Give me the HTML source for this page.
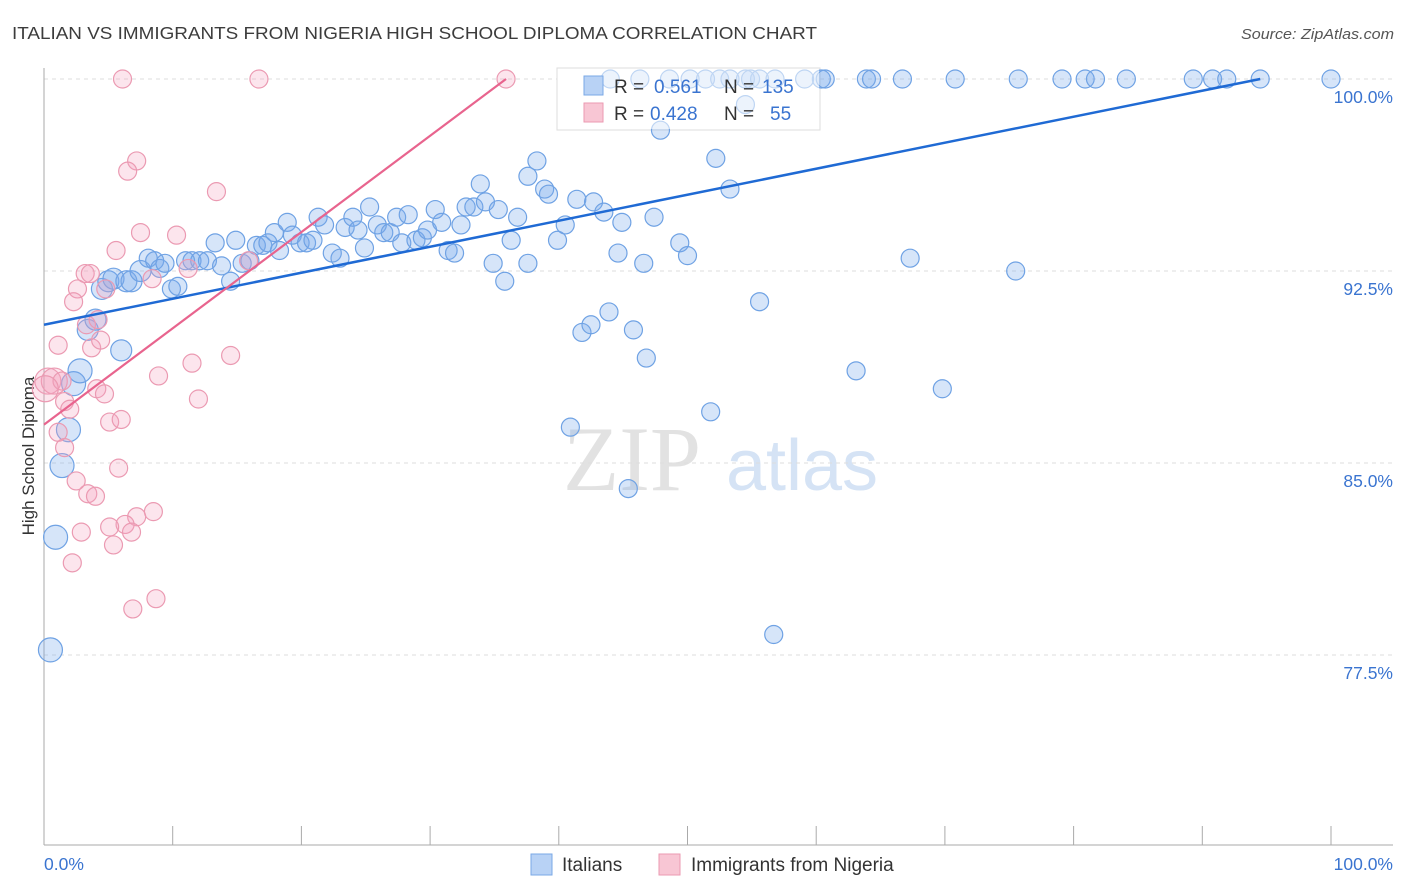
<!DOCTYPE html>
<html><head><meta charset="utf-8"><style>
body{margin:0;background:#fff;font-family:"Liberation Sans",sans-serif}
svg{display:block}
</style></head><body>
<svg id="chart" width="1406" height="892" xmlns="http://www.w3.org/2000/svg">
<text x="12" y="39" font-size="17.5" fill="#3c3c3c" textLength="805" lengthAdjust="spacingAndGlyphs">ITALIAN VS IMMIGRANTS FROM NIGERIA HIGH SCHOOL DIPLOMA CORRELATION CHART</text>
<text x="1241" y="39" font-size="14.5" fill="#555" font-style="italic" textLength="153" lengthAdjust="spacingAndGlyphs">Source: ZipAtlas.com</text>
<text transform="translate(34,456) rotate(-90)" font-size="17" fill="#333" text-anchor="middle">High School Diploma</text>
<g>
<text x="632" y="490" font-size="92" fill="#e2e2e2" font-family="Liberation Serif,serif" text-anchor="middle">ZIP</text>
<text x="802" y="490" font-size="72" fill="#d5e3f5" text-anchor="middle">atlas</text>
</g>
<g id="grid"></g><g id="axes"></g>
<g>
<rect x="557" y="68" width="263" height="62" fill="#fff" stroke="#ddd"/>
</g>
<g id="pts"></g><g id="lines"></g>
<g>
<rect x="558" y="69" width="261" height="60" fill="rgba(255,255,255,0.55)"/>
<rect x="584" y="76" width="19" height="19" fill="#b8d2f5" stroke="#7aa8e6"/>
<rect x="584" y="103" width="19" height="19" fill="#f8c6d4" stroke="#eb9ab2"/>
<text x="614" y="93" font-size="19" fill="#333">R = </text><text x="654" y="93" font-size="19" fill="#3a74d0">0.561</text>
<text x="724" y="93" font-size="19" fill="#333">N = </text><text x="762" y="93" font-size="19" fill="#3a74d0">135</text>
<text x="614" y="120" font-size="19" fill="#333">R = </text><text x="650" y="120" font-size="19" fill="#3a74d0">0.428</text>
<text x="724" y="120" font-size="19" fill="#333">N = </text><text x="770" y="120" font-size="19" fill="#3a74d0">55</text>
</g>
<g>
<rect x="531" y="854" width="21" height="21" fill="#b8d2f5" stroke="#7aa8e6"/>
<text x="562" y="871" font-size="19" fill="#333">Italians</text>
<rect x="659" y="854" width="21" height="21" fill="#f8c6d4" stroke="#eb9ab2"/>
<text x="691" y="871" font-size="19" fill="#333">Immigrants from Nigeria</text>
</g>
</svg>
<script>
const yTicks=[100,92.5,85,77.5];
const yTickLabels=["100.0%","92.5%","85.0%","77.5%"];
const xTicks=[0,10,20,30,40,50,60,70,80,90,100];
const xLabelVals=[0,100];
const xLabels=["0.0%","100.0%"];
const blueX=[0.5,0.9,1.4,1.9,2.3,2.8,3.4,4.0,4.5,5.0,5.4,6.0,6.4,6.8,7.5,8.1,8.6,9.0,9.4,9.9,10.4,11.0,11.5,12.1,12.7,13.3,13.8,14.5,14.9,15.4,16.0,16.5,17.0,17.4,17.9,18.3,18.9,19.3,19.9,20.4,20.9,21.3,21.8,22.4,23.0,23.4,24.0,24.4,24.9,25.3,25.9,26.4,26.9,27.4,27.8,28.3,28.9,29.4,29.8,30.4,30.9,31.4,31.9,32.4,32.8,33.4,33.9,34.3,34.9,35.3,35.8,36.3,36.8,37.6,37.6,38.3,38.9,39.2,39.9,40.5,40.9,41.4,41.8,42.5,42.7,43.5,43.9,44.6,44.9,45.4,45.8,46.6,46.8,47.4,47.9,49.4,50.0,51.8,52.2,53.3,55.6,56.7,63.1,67.3,69.8,75.5,54.5,
44.0,46.3,48.6,50.2,51.4,52.5,53.3,54.5,54.9,55.6,56.8,59.1,60.4,60.7,63.9,64.3,66.7,70.8,75.7,79.1,80.9,81.7,84.1,89.3,90.8,91.9,94.5,100.0];
const blueY=[77.7,82.1,84.9,86.3,88.1,88.6,90.2,90.6,91.8,92.1,92.2,89.4,92.1,92.1,92.5,93.0,92.9,92.6,92.8,91.8,91.9,92.9,92.9,92.9,92.9,93.6,92.7,92.1,93.7,92.8,92.9,93.5,93.5,93.6,94.0,93.3,94.4,93.9,93.6,93.6,93.7,94.6,94.3,93.2,93.0,94.2,94.6,94.1,93.4,95.0,94.3,94.0,94.0,94.6,93.6,94.7,93.7,93.8,94.1,94.9,94.4,93.3,93.2,94.3,95.0,95.0,95.9,95.2,92.8,94.9,92.1,93.7,94.6,92.8,96.2,96.8,95.7,95.5,93.7,94.3,86.4,95.3,90.1,90.4,95.2,94.8,90.9,93.2,94.4,84.0,90.2,92.8,89.1,94.6,98.0,93.6,93.1,87.0,96.9,95.7,91.3,78.3,88.6,93.0,87.9,92.5,99.0,
100,100,100,100,100,100,100,100,100,100,100,100,100,100,100,100,100,100,100,100,100,100,100,100,100,100,100,100];
const pinkX=[6.1,16.7,35.9,7.2,6.5,13.4,7.5,10.3,5.6,3.2,3.6,2.6,2.3,4.8,8.4,11.2,15.9,1.1,3.3,4.2,3.7,4.4,11.5,14.5,8.9,0.3,0.8,1.4,0.1,4.1,4.7,1.6,2.0,12.0,5.1,6.0,1.1,1.6,5.8,2.5,3.4,4.0,8.5,7.2,6.3,5.1,6.8,2.9,5.4,2.2,8.7,6.9];
const pinkY=[100,100,100,96.8,96.4,95.6,94.0,93.9,93.3,92.4,92.4,91.8,91.3,91.8,92.2,92.6,92.9,89.6,90.4,90.6,89.5,89.8,88.9,89.2,88.4,88.2,88.2,88.2,87.9,87.9,87.7,87.4,87.1,87.5,86.6,86.7,86.2,85.6,84.8,84.3,83.8,83.7,83.1,82.9,82.6,82.5,82.3,82.3,81.8,81.1,79.7,79.3];
const blueLine=[[0,90.4],[94.5,100]];
const pinkLine=[[0,86.5],[35.9,100]];
const X0=44,X1=1331,Y100=79,PXPER=25.6;
const sx=v=>X0+(X1-X0)*v/100;
const sy=v=>Y100+(100-v)*PXPER;
const NS="http://www.w3.org/2000/svg";
function mk(tag,attrs,parent){const e=document.createElementNS(NS,tag);for(const k in attrs)e.setAttribute(k,attrs[k]);parent.appendChild(e);return e;}
const grid=document.getElementById('grid'),axes=document.getElementById('axes'),pts=document.getElementById('pts'),lines=document.getElementById('lines');
yTicks.forEach((t,i)=>{
 const g=mk('line',{x1:44,x2:1393,y1:sy(t),y2:sy(t),stroke:'#ddd','stroke-dasharray':'4,4'},grid);
 
 
 const l=mk('text',{x:1393,y:sy(t)+24,'font-size':17.5,fill:'#3a74d0','text-anchor':'end'},axes);
 l.textContent=yTickLabels[i];
 
 
});
const ax=mk('line',{x1:44,x2:44,y1:68,y2:845,stroke:'#aaa'},axes);


const bx=mk('line',{x1:44,x2:1393,y1:845,y2:845,stroke:'#aaa'},axes);


xTicks.forEach(t=>{
 const k=mk('line',{x1:sx(t),x2:sx(t),y1:826,y2:845,stroke:'#aaa'},axes);
 
 
});
xLabelVals.forEach((v,i)=>{
 const l=mk('text',{x:i==0?sx(v):1393,y:870,'font-size':17.5,fill:'#3a74d0','text-anchor':i==0?'start':'end'},axes);
 l.textContent=xLabels[i];
 
 
});
blueX.forEach((x,i)=>{
 const r=x<3?12:(x<8?10.5:9);
 const c=mk('circle',{cx:sx(x),cy:sy(blueY[i]),r:r,fill:'rgba(120,170,235,0.3)',stroke:'#6fa2e4','stroke-width':1.2},pts);
 
 
});
pinkX.forEach((x,i)=>{
 const r=x<1?13:9;
 const c=mk('circle',{cx:sx(x),cy:sy(pinkY[i]),r:r,fill:'rgba(245,160,190,0.28)',stroke:'#eb9ab2','stroke-width':1.2},pts);
 
 
});
const bl=mk('line',{x1:sx(blueLine[0][0]),y1:sy(blueLine[0][1]),x2:sx(blueLine[1][0]),y2:sy(blueLine[1][1]),stroke:'#1f6ad4','stroke-width':2.5},lines);


const pl=mk('line',{x1:sx(pinkLine[0][0]),y1:sy(pinkLine[0][1]),x2:sx(pinkLine[1][0]),y2:sy(pinkLine[1][1]),stroke:'#e8648e','stroke-width':2.2},lines);


</script>
</body></html>
